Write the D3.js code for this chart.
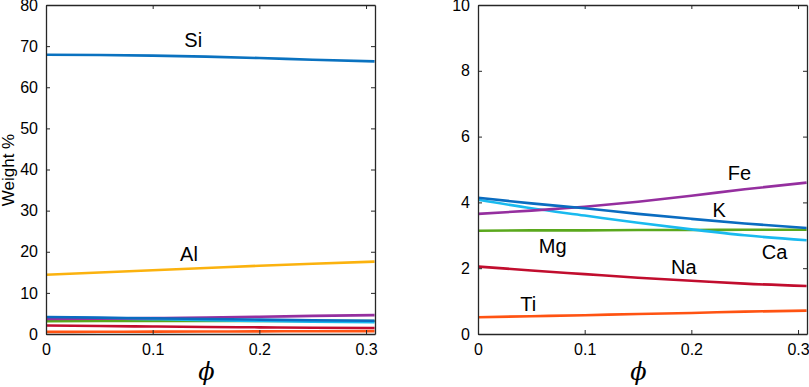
<!DOCTYPE html>
<html>
<head>
<meta charset="utf-8">
<script src="https://cdn.jsdelivr.net/npm/d3@7"></script>
<style>
  body { margin: 0; background: #fff; }
  text { font-family: Arial, "Liberation Sans", sans-serif; fill: #000; }
</style>
</head>
<body>
<script>
// porosity values along x
const phi = [0, 0.05, 0.1, 0.15, 0.2, 0.25, 0.308];

// weight % of each oxide/element
const Si = [67.9, 67.85, 67.7, 67.45, 67.1, 66.7, 66.3];
const Al = [14.4, 14.95, 15.5, 16.05, 16.6, 17.1, 17.6];
const Fe = [3.65, 3.75, 3.87, 4.02, 4.2, 4.4, 4.6];
const K  = [4.14, 3.97, 3.82, 3.65, 3.5, 3.36, 3.22];
const Ca = [4.08, 3.82, 3.6, 3.38, 3.18, 3.0, 2.85];
const Mg = [3.14, 3.15, 3.15, 3.16, 3.16, 3.17, 3.17];
const Na = [2.05, 1.93, 1.82, 1.71, 1.62, 1.53, 1.46];
const Ti = [0.51, 0.54, 0.57, 0.61, 0.64, 0.68, 0.71];

const leftTicksY = [0, 10, 20, 30, 40, 50, 60, 70, 80];
const rightTicksY = [0, 2, 4, 6, 8, 10];
const ticksX = [0, 0.1, 0.2, 0.3];

const series = [
  { name: "Si", vals: Si, color: "#0a72c0" },
  { name: "Al", vals: Al, color: "#fbb20e" },
  { name: "Mg", vals: Mg, color: "#5aa81c" },
  { name: "Ca", vals: Ca, color: "#19baef" },
  { name: "Fe", vals: Fe, color: "#952f9f" },
  { name: "K",  vals: K,  color: "#0a6cc0" },
  { name: "Na", vals: Na, color: "#c10d2e" },
  { name: "Ti", vals: Ti, color: "#ff5312" }
];

// label anchors [phi, weight]
const leftLabels = [
  { name: "Si", x: 0.138, y: 71.5 },
  { name: "Al", x: 0.134, y: 19.4 }
];
const rightLabels = [
  { name: "Fe", x: 0.245, y: 4.91 },
  { name: "K",  x: 0.226, y: 3.77 },
  { name: "Mg", x: 0.070, y: 2.69 },
  { name: "Ca", x: 0.278, y: 2.5 },
  { name: "Na", x: 0.193, y: 2.05 },
  { name: "Ti", x: 0.047, y: 0.91 }
];

const svg = d3.select("body").append("svg")
  .attr("width", 809).attr("height", 387);

function panel(x0, x1, yMax, yTicks, names, labels, ylab) {
  const top = 5, bottom = 334;
  const x = d3.scaleLinear().domain([0, 0.3084]).range([x0, x1]);
  const y = d3.scaleLinear().domain([0, yMax]).range([bottom, top]);
  const g = svg.append("g");

  const line = d3.line()
    .x((d, i) => x(phi[i]))
    .y(d => y(d))
    .curve(d3.curveMonotoneX);

  g.append("defs").append("clipPath").attr("id", "clip" + x0)
    .append("rect").attr("x", x0).attr("y", top).attr("width", x1 - x0).attr("height", bottom - top);

  series.filter(s => names.includes(s.name)).forEach(s => {
    g.append("path")
      .attr("clip-path", "url(#clip" + x0 + ")")
      .attr("d", line(s.vals))
      .attr("fill", "none")
      .attr("stroke", s.color)
      .attr("stroke-width", 2.6);
  });

  // axes, matlab style ticks pointing inward
  const ax = "#262626";
  g.append("g").attr("transform", `translate(0,${bottom})`)
    .call(d3.axisBottom(x).tickValues(ticksX).tickSizeInner(-4).tickSizeOuter(0).tickPadding(10)
      .tickFormat(d => d === 0 ? "0" : d3.format(".1f")(d)));
  g.append("g").attr("transform", `translate(0,${top})`)
    .call(d3.axisTop(x).tickValues(ticksX).tickSizeInner(-4).tickSizeOuter(0).tickFormat(""));
  g.append("g").attr("transform", `translate(${x0},0)`)
    .call(d3.axisLeft(y).tickValues(yTicks).tickSizeInner(-4).tickSizeOuter(0).tickPadding(8));
  g.append("g").attr("transform", `translate(${x1},0)`)
    .call(d3.axisRight(y).tickValues(yTicks).tickSizeInner(-4).tickSizeOuter(0).tickFormat(""));
  g.selectAll(".domain").attr("stroke", ax).attr("stroke-width", 1.3);
  g.selectAll(".tick line").attr("stroke", ax);
  g.selectAll(".tick text").style("font-size", "16px").attr("fill", "#000")
    .style("font-family", "Arial, 'Liberation Sans', sans-serif");

  labels.forEach(l => {
    g.append("text")
      .attr("x", x(l.x)).attr("y", y(l.y))
      .attr("text-anchor", "middle").attr("dy", "0.36em")
      .style("font-size", "20px")
      .text(l.name);
  });

  g.append("text")
    .attr("x", (x0 + x1) / 2 - 4).attr("y", 380)
    .attr("text-anchor", "middle")
    .style("font-family", "'DejaVu Serif', serif")
    .style("font-style", "italic")
    .style("font-size", "24px")
    .text("\u03d5");

  if (ylab) {
    g.append("text")
      .attr("transform", `translate(14,170) rotate(-90)`)
      .attr("text-anchor", "middle")
      .style("font-size", "17px")
      .text(ylab);
  }
}

panel(46, 375, 80, leftTicksY, ["Si", "Al", "Mg", "Ca", "Fe", "K", "Na", "Ti"], leftLabels, "Weight %");
panel(478, 807, 10, rightTicksY, ["Mg", "Ca", "Fe", "K", "Na", "Ti"], rightLabels, null);
</script>
</body>
</html>
